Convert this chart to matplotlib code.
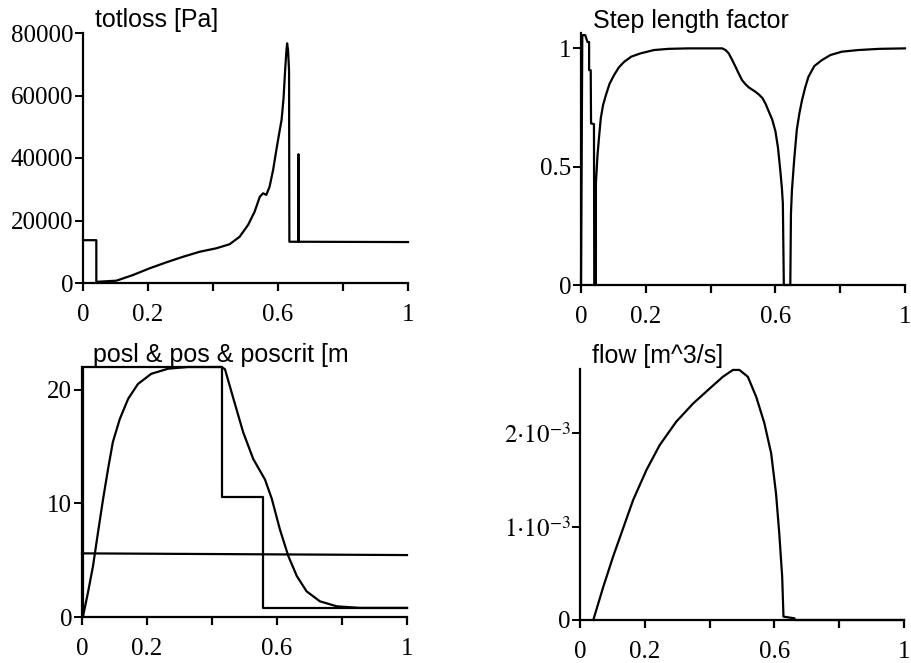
import matplotlib.pyplot as plt
import numpy as np

# ---- data ----
x_ticks = [0, 0.2, 0.4, 0.6, 0.8, 1.0]
x_ticklabels = ["0", "0.2", "", "0.6", "", "1"]

# totloss [Pa]
totloss_x = [0.0, 0.041, 0.041, 0.046, 0.103, 0.154, 0.205, 0.256, 0.308, 0.359,
             0.41, 0.451, 0.482, 0.508, 0.528, 0.544, 0.554, 0.564, 0.574, 0.585,
             0.595, 0.603, 0.611, 0.617, 0.622, 0.626, 0.628, 0.631, 0.634, 0.635,
             0.662, 0.663, 0.664, 1.0]
totloss_y = [13700, 13700, 400, 400, 750, 2560, 4700, 6600, 8400, 10000,
             11100, 12400, 14800, 18600, 22800, 27600, 28700, 28200, 30800, 36200,
             42600, 47500, 52200, 59000, 68200, 74500, 76700, 74500, 68000, 13200,
             13200, 41200, 13200, 13100]

# Step length factor
step_x = [0.0, 0.004, 0.013, 0.02, 0.025, 0.025, 0.03, 0.031, 0.04, 0.041, 0.046,
          0.046, 0.051, 0.056, 0.061, 0.068, 0.077, 0.088, 0.102, 0.117, 0.133,
          0.155, 0.184, 0.225, 0.27, 0.33, 0.436, 0.446, 0.456, 0.467, 0.477,
          0.487, 0.497, 0.508, 0.518, 0.528, 0.538, 0.549, 0.56, 0.57, 0.579,
          0.59, 0.60, 0.608, 0.615, 0.62, 0.623, 0.626, 0.646, 0.648, 0.651,
          0.658, 0.666, 0.674, 0.682, 0.692, 0.702, 0.72, 0.743, 0.77, 0.805,
          0.856, 0.92, 1.0]
step_y = [0.0, 1.056, 1.056, 1.027, 1.027, 0.908, 0.908, 0.683, 0.68, 0.0, 0.0,
          0.43, 0.55, 0.63, 0.704, 0.76, 0.803, 0.85, 0.887, 0.92, 0.943,
          0.965, 0.979, 0.993, 0.998, 1.0, 1.0, 0.993, 0.979, 0.95, 0.922,
          0.893, 0.866, 0.848, 0.835, 0.826, 0.817, 0.805, 0.79, 0.765, 0.735,
          0.70, 0.65, 0.58, 0.486, 0.41, 0.345, 0.0, 0.0, 0.30, 0.40,
          0.53, 0.655, 0.725, 0.78, 0.835, 0.88, 0.925, 0.95, 0.972, 0.986,
          0.993, 0.998, 1.0]

# posl & pos & poscrit [m]
posl_x = [0.003, 0.003, 0.43, 0.43, 0.558, 0.558, 1.0]
posl_y = [0.0, 22.0, 22.0, 10.6, 10.6, 0.8, 0.8]
pos_x = [0.0, 0.003, 0.018, 0.034, 0.049, 0.065, 0.08, 0.095, 0.116, 0.142,
         0.172, 0.213, 0.265, 0.326, 0.43, 0.44, 0.466, 0.496, 0.527, 0.563,
         0.584, 0.609, 0.635, 0.661, 0.691, 0.732, 0.784, 0.855, 1.0]
pos_y = [0.0, 0.05, 2.1, 4.5, 7.4, 10.4, 13.0, 15.4, 17.4, 19.2,
         20.5, 21.4, 21.85, 22.0, 22.0, 21.8, 19.2, 16.25, 13.9, 12.1,
         10.4, 7.7, 5.35, 3.6, 2.26, 1.38, 0.94, 0.8, 0.8]
poscrit_x = [0.0, 1.0]
poscrit_y = [5.6, 5.45]

# flow [m^3/s]
flow_x = [0.041, 0.072, 0.102, 0.133, 0.164, 0.205, 0.246, 0.297, 0.349, 0.40,
          0.441, 0.472, 0.492, 0.518, 0.544, 0.569, 0.59, 0.605, 0.615, 0.624,
          0.628, 0.662, 0.663, 1.0]
flow_y = [0.0, 0.357e-3, 0.678e-3, 0.982e-3, 1.286e-3, 1.607e-3, 1.875e-3,
          2.125e-3, 2.32e-3, 2.48e-3, 2.607e-3, 2.68e-3, 2.68e-3, 2.607e-3,
          2.39e-3, 2.11e-3, 1.786e-3, 1.357e-3, 0.929e-3, 0.464e-3, 0.036e-3,
          0.018e-3, 0.0, 0.0]

# ---- figure ----
plt.rcParams['mathtext.fontset'] = 'stix'
W, H = 911, 663
fig = plt.figure(figsize=(W / 100, H / 100), dpi=100)


def make_axes(left, right, top, bottom):
    return fig.add_axes([left / W, 1 - bottom / H, (right - left) / W, (bottom - top) / H])


def style(ax, ylim, yticks, yticklabels):
    ax.set_xlim(0, 1)
    ax.set_ylim(*ylim)
    for s in ("top", "right"):
        ax.spines[s].set_visible(False)
    for s in ("left", "bottom"):
        ax.spines[s].set_linewidth(1.6)
    ax.set_xticks(x_ticks)
    ax.set_xticklabels(x_ticklabels, family="Liberation Serif", fontsize=18)
    ax.set_yticks(yticks)
    ax.set_yticklabels(yticklabels, family="Liberation Serif", fontsize=18)
    ax.tick_params(axis="x", direction="out", length=6, width=1.6, pad=9)
    ax.tick_params(axis="y", direction="out", length=6, width=1.4, pad=1)


lw = 1.6
kw = dict(color="black", lw=lw, clip_on=False, solid_joinstyle="round")

ax1 = make_axes(83, 408, 33, 283)
ax1.plot(totloss_x, totloss_y, **kw)
style(ax1, (0, 80000), [0, 20000, 40000, 60000, 80000],
      ["0", "20000", "40000", "60000", "80000"])

ax2 = make_axes(581, 905, 33, 285)
ax2.plot(step_x, step_y, **kw)
style(ax2, (0, 1.065), [0, 0.5, 1.0], ["0", "0.5", "1"])

ax3 = make_axes(82, 407, 367, 617)
ax3.plot(posl_x, posl_y, **kw)
ax3.plot(pos_x, pos_y, **kw)
ax3.plot(poscrit_x, poscrit_y, **kw)
style(ax3, (0, 22), [0, 10, 20], ["0", "10", "20"])

ax4 = make_axes(580, 904, 369, 620)
ax4.plot(flow_x, flow_y, **kw)
style(ax4, (0, 2.69e-3), [0, 1e-3, 2e-3],
      ["0", r"$1{\cdot}10^{-3}$", r"$2{\cdot}10^{-3}$"])

# panel titles
titles = [("totloss [Pa]", 95, 27), ("Step length factor", 593, 28),
          ("posl & pos & poscrit [m", 93, 362), ("flow [m^3/s]", 592, 363)]
for text, px, py in titles:
    fig.text(px / W, 1 - py / H, text, family="Liberation Sans", fontsize=18,
             ha="left", va="baseline")

fig.savefig("out.png", dpi=100)
